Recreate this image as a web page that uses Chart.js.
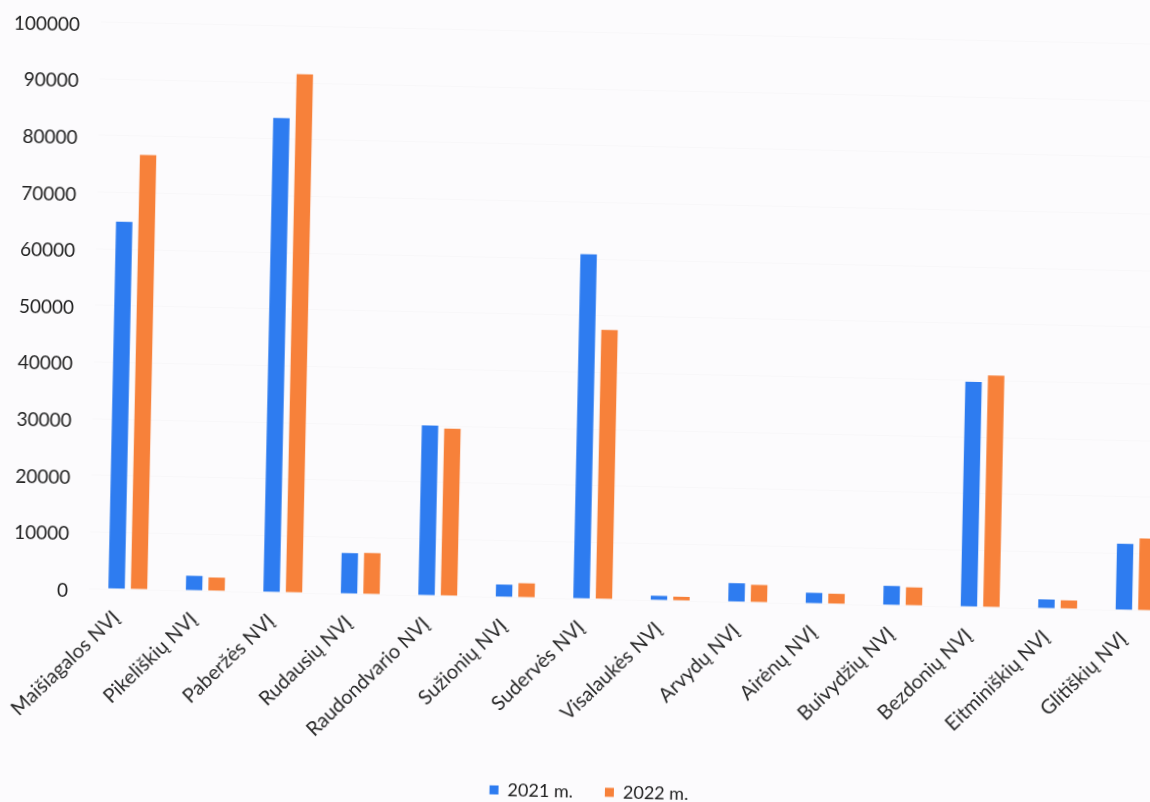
<!DOCTYPE html>
<html>
<head>
<meta charset="utf-8">
<script src="https://cdn.jsdelivr.net/npm/chart.js@4"></script>
<style>
  html, body { margin: 0; padding: 0; width: 1150px; height: 802px; overflow: hidden; background: #fcfbfd; }
  #wrap { position: absolute; left: 0; top: -11px; width: 1180px; height: 811px;
          transform: rotate(1.2deg); transform-origin: 70px 602px; }
</style>
</head>
<body>
<div id="wrap"><canvas id="c" width="1180" height="811"></canvas></div>
<script>
const categories = ['Maišiagalos NVĮ', 'Pikeliškių NVĮ', 'Paberžės NVĮ', 'Rudausių NVĮ', 'Raudondvario NVĮ',
  'Sužionių NVĮ', 'Sudervės NVĮ', 'Visalaukės NVĮ', 'Arvydų NVĮ', 'Airėnų NVĮ', 'Buivydžių NVĮ',
  'Bezdonių NVĮ', 'Eitminiškių NVĮ', 'Glitiškių NVĮ'];
const values2021 = [64800, 2600, 83700, 7200, 30000, 2200, 60800, 800, 3300, 1900, 3400, 39700, 1600, 11700];
const values2022 = [76700, 2400, 91500, 7300, 29500, 2500, 47500, 700, 3100, 1800, 3200, 40900, 1500, 12700];
const seriesNames = ['2021 m.', '2022 m.'];
const yTicks = [0, 10000, 20000, 30000, 40000, 50000, 60000, 70000, 80000, 90000, 100000];

const FONT = 'Lato, "Open Sans", sans-serif';
const noClip = () => undefined;

new Chart(document.getElementById('c'), {
  type: 'bar',
  data: {
    labels: categories,
    datasets: [
      { label: seriesNames[0], data: values2021, backgroundColor: '#2e7cf0', barPercentage: 0.73, categoryPercentage: 0.58 },
      { label: seriesNames[1], data: values2022, backgroundColor: '#f7813a', barPercentage: 0.73, categoryPercentage: 0.58 }
    ]
  },
  options: {
    responsive: false,
    animation: false,
    layout: { padding: { left: 12, right: 6, top: 10, bottom: 0 } },
    plugins: {
      legend: {
        position: 'bottom',
        labels: { boxWidth: 9, boxHeight: 9, color: '#222', font: { family: FONT, size: 18 }, padding: 32 }
      },
      tooltip: { enabled: false }
    },
    scales: {
      x: {
        grid: { display: false, drawTicks: false },
        border: { display: false },
        ticks: { color: '#2a2a2a', font: { family: FONT, size: 20 }, minRotation: 45, maxRotation: 45, padding: 17, labelOffset: -11 },
        afterFit: (axis) => { axis.height = 152; axis._computeLabelArea = noClip; }
      },
      y: {
        min: 0, max: 100000,
        afterBuildTicks: (axis) => { axis.ticks = yTicks.map(v => ({ value: v })); },
        grid: { color: 'rgba(0,0,0,0.015)', drawTicks: false },
        border: { display: false },
        ticks: { color: '#222', font: { family: FONT, size: 19 }, padding: 21, labelOffset: 3, callback: (v) => String(v) },
        afterFit: (axis) => { axis.width = 77; axis._computeLabelArea = noClip; }
      }
    }
  }
});
</script>
</body>
</html>
